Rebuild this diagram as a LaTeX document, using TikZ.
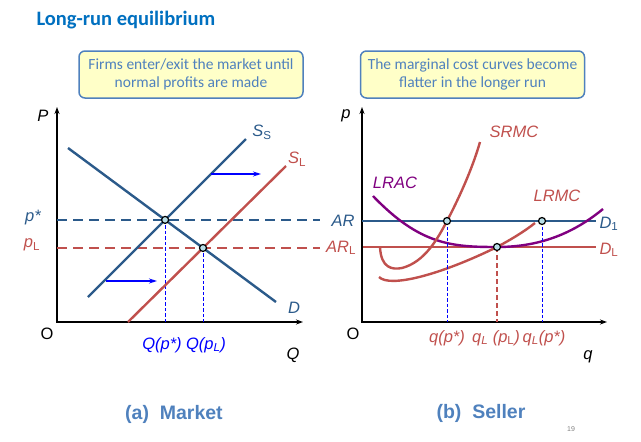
\documentclass[tikz,border=0pt]{standalone}
\usepackage{fontspec}
\setmainfont{Liberation Sans}
\newfontfamily\calibri{Carlito}
\usetikzlibrary{arrows.meta,positioning}
\definecolor{navy}{HTML}{2B5A8A}
\definecolor{brick}{HTML}{C0504D}
\definecolor{plum}{HTML}{800080}
\definecolor{heading}{HTML}{0070C0}
\definecolor{slate}{HTML}{4F81BD}
\definecolor{notefill}{HTML}{FFFFC8}
\definecolor{dotfill}{HTML}{B7DEE8}
\definecolor{bright}{HTML}{0000FF}
\tikzset{
  axis/.style={line width=1.5pt, {Stealth[length=7pt,width=5pt]}-{Stealth[length=7pt,width=5pt]}},
  curve/.style={line width=2.4pt},
  hline/.style={line width=1.8pt, dash pattern=on 10pt off 6pt},
  drop/.style={line width=1pt, bright, dash pattern=on 3.5pt off 2pt},
  move/.style={line width=1.2pt, bright, -{Stealth[length=8pt,width=5pt]}},
  eq/.style={circle, draw, line width=1.2pt, fill=dotfill, inner sep=0pt, minimum size=7pt},
  lbl/.style={font=\fontsize{16.5}{16.5}\selectfont\itshape, inner sep=1pt},
  note/.style={draw=slate, line width=1.5pt, rounded corners=6pt, fill=notefill, align=center,
    text=slate, font=\calibri\fontsize{15.5}{18}\selectfont, minimum width=224pt, minimum height=47pt},
  panel/.style={font=\bfseries\fontsize{19.5}{19.5}\selectfont, text=slate},
}

\begin{document}
\begin{tikzpicture}[x=1pt,y=-1pt]
  \useasboundingbox (0,0) rectangle (641,442);
  \node[anchor=west, font=\calibri\bfseries\fontsize{20.5}{20.5}\selectfont, text=heading] (ttl) at (33,20) {Long-run equilibrium};
  \node[note] (n1) at (191,74.5) {Firms enter/exit the market until\\normal profits are made};
  \node[note] (n2) at (472.5,74.5) {The marginal cost curves become\\flatter in the longer run};

  % (a) market
  \coordinate (O1) at (57,322);
  \coordinate (P1) at (57,107);
  \coordinate (Q1) at (303,322);
  \coordinate (end1) at (320,0);
  \coordinate (ss0) at (88,297);
  \coordinate (ss1) at (246,139);
  \coordinate (sl0) at (128,322);
  \coordinate (sl1) at (286,166);
  \coordinate (d0) at (68,148);
  \coordinate (d1) at (276,302);
  \coordinate (e1) at (intersection of ss0--ss1 and d0--d1);
  \coordinate (e2) at (intersection of sl0--sl1 and d0--d1);

  \draw[axis] (P1) -- (O1) -- (Q1);
  \draw[hline, navy] (e1 -| O1) -- (e1 -| end1);
  \draw[hline, brick] (e2 -| O1) -- (e2 -| end1);
  \draw[drop] (e1) -- (e1 |- O1);
  \draw[drop] (e2) -- (e2 |- O1);
  \draw[curve, navy] (ss0) -- (ss1);
  \draw[curve, navy] (d0) -- (d1);
  \draw[curve, brick] (sl0) -- (sl1);
  \coordinate (m1a) at (211,174);
  \coordinate (m1b) at (261,174);
  \coordinate (m2a) at (106,281);
  \coordinate (m2b) at (157,281);
  \draw[move] (m1a) -- (m1b);
  \draw[move] (m2a) -- (m2b);
  \node[eq] (pe1) at (e1) {};
  \node[eq] (pe2) at (e2) {};

  \node[lbl] (lP1) at (43,116) {P};
  \node[lbl, font=\fontsize{16.5}{16.5}\selectfont] (lO1) at (47,334) {O};
  \node[lbl] (lQ1) at (293,355) {Q};
  \node[lbl, text=navy] (lps) at (33,218) {p*};
  \node[lbl, text=brick] (lpl) at (32,245) {p\textup{\textsubscript{L}}};
  \node[lbl, text=navy] (lss) at (262,132) {S\textup{\textsubscript{S}}};
  \node[lbl, text=brick] (lsl) at (297,159) {S\textup{\textsubscript{L}}};
  \node[lbl, text=navy] (ld) at (294,308) {D};
  \node[lbl, text=bright] (lq1) at (162,345) {Q(p*)};
  \node[lbl, text=bright] (lq2) at (206,345) {Q(p\textsubscript{L})};

  % (b) seller
  \coordinate (O2) at (362,322);
  \coordinate (P2) at (362,107);
  \coordinate (Q2) at (607,322);
  \coordinate (ar0) at (362,221);
  \coordinate (ar1) at (596,221);
  \coordinate (arl0) at (363,247);
  \coordinate (arl1) at (596,247);
  \coordinate (g1) at (447,221);
  \coordinate (g2) at (497,247);
  \coordinate (g3) at (542,221);
  \coordinate (lrac0) at (373,196);
  \coordinate (lrac1) at (603,209);
  \coordinate (srmc0) at (380,247);
  \coordinate (srmcm) at (402,268);
  \coordinate (srmc1) at (480,142);
  \coordinate (lrmc0) at (379,277);
  \coordinate (lrmc1) at (535,223);

  \draw[axis] (P2) -- (O2) -- (Q2);
  \draw[curve, navy] (ar0) -- (ar1);
  \draw[curve, brick] (arl0) -- (arl1);
  \draw[curve, plum] (lrac0) .. controls (420,245) and (452,247) .. (g2)
    .. controls (542,247) and (575,232) .. (lrac1);
  \draw[curve, brick] (srmc0) .. controls (381,268) and (392,270) .. (srmcm)
    .. controls (425,262) and (438,238) .. (g1)
    .. controls (458,200) and (472,170) .. (srmc1);
  \draw[curve, brick] (lrmc0) .. controls (390,288) and (440,275) .. (g2)
    .. controls (512,239) and (525,231) .. (lrmc1);
  \draw[drop] (g1) -- (g1 |- O2);
  \draw[drop] (g3) -- (g3 |- O2);
  \draw[line width=1.3pt, brick, dash pattern=on 5pt off 3pt] (g2) -- (g2 |- O2);
  \node[eq] (pg1) at (g1) {};
  \node[eq] (pg2) at (g2) {};
  \node[eq] (pg3) at (g3) {};

  \node[lbl] (lP2) at (346,116) {p};
  \node[lbl, font=\fontsize{16.5}{16.5}\selectfont] (lO2) at (353,334) {O};
  \node[lbl] (lQ2) at (588,357) {q};
  \node[lbl, text=navy] (lar) at (343,221) {AR};
  \node[lbl, text=brick] (larl) at (341,248) {AR\textup{\textsubscript{L}}};
  \node[lbl, text=navy] (ld1) at (609,224) {D\textup{\textsubscript{1}}};
  \node[lbl, text=brick] (ldl) at (609,250) {D\textup{\textsubscript{L}}};
  \node[lbl, text=plum] (llrac) at (395,183) {LRAC};
  \node[lbl, text=brick] (lsrmc) at (514,132) {SRMC};
  \node[lbl, text=brick] (llrmc) at (557,196) {LRMC};
  \node[lbl, text=brick] (lq3) at (447,338) {q(p*)};
  \node[lbl, text=brick] (lq4) at (496,338) {q\textsubscript{L} (p\textup{\textsubscript{L}})};
  \node[lbl, text=brick] (lq5) at (544,338) {q\textsubscript{L}(p*)};

  \node[panel] (pa) at (174,414) {(a)\ \ Market};
  \node[panel] (pb) at (481,413) {(b)\ \ Seller};
  \node[font=\fontsize{7}{7}\selectfont, text=gray] (pg) at (571,429) {19};
\end{tikzpicture}
\end{document}
